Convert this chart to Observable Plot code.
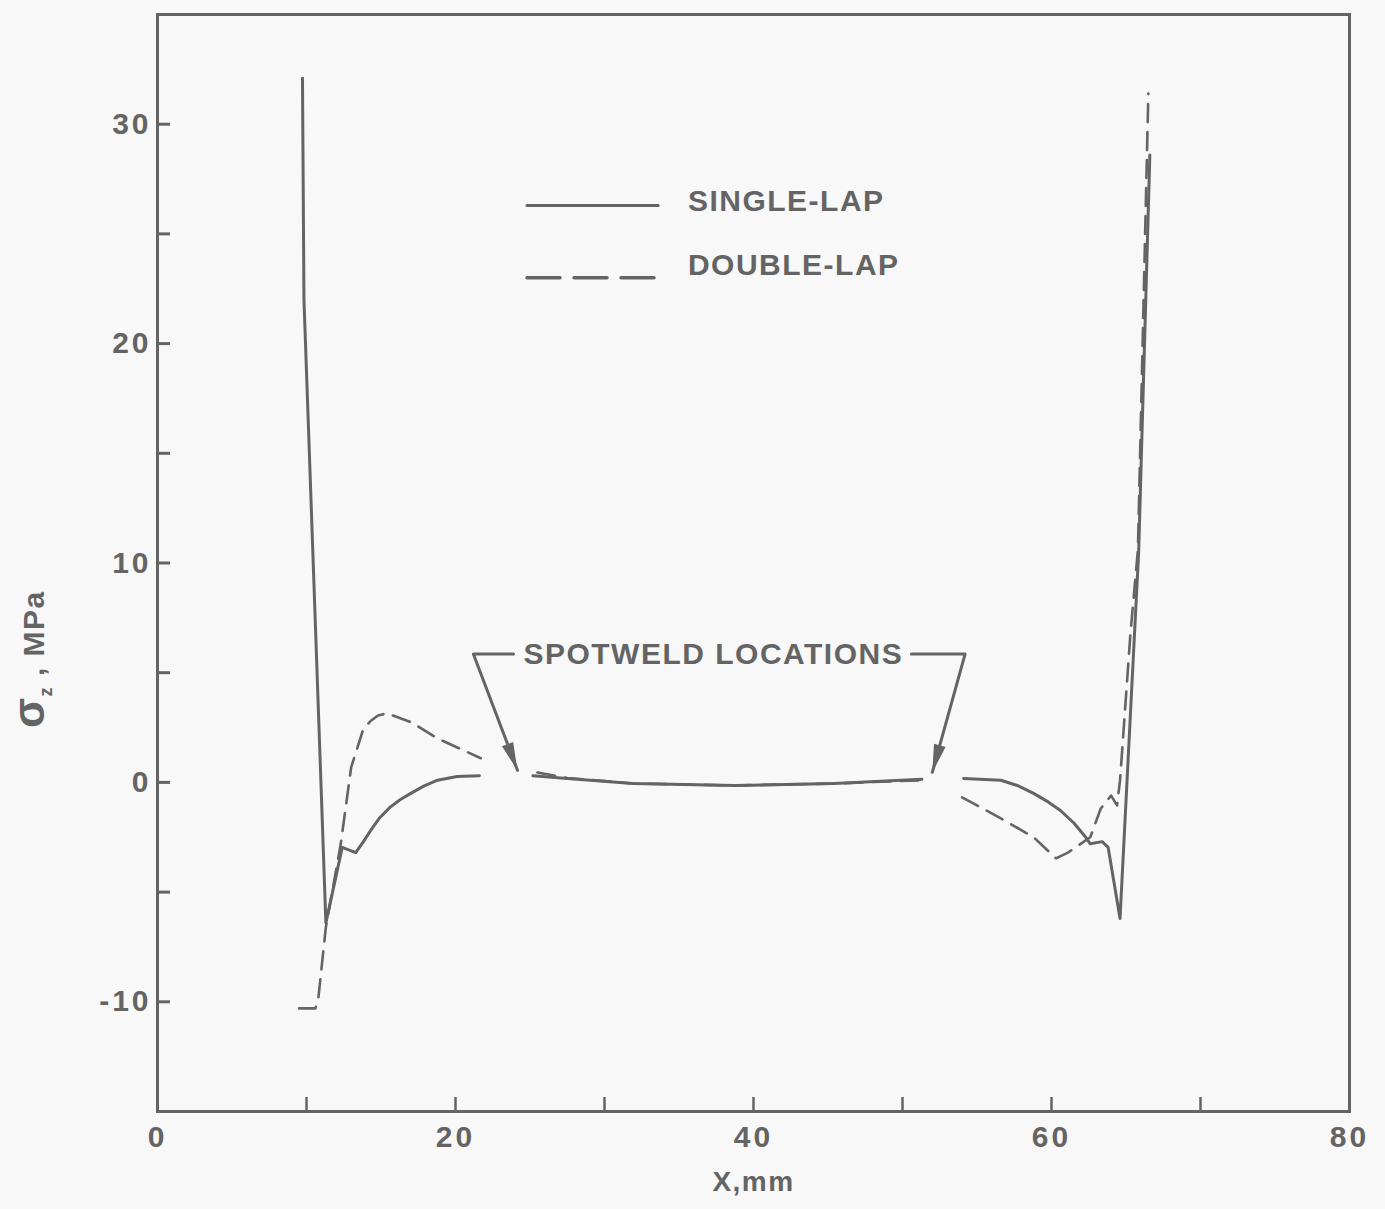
<!DOCTYPE html>
<html>
<head>
<meta charset="utf-8">
<script src="https://cdn.jsdelivr.net/npm/d3@7"></script>
<script src="https://cdn.jsdelivr.net/npm/@observablehq/plot@0.6"></script>
<style>
  html, body { margin: 0; padding: 0; background: #f8f8f8; }
  #chart { width: 1385px; height: 1209px; }
</style>
</head>
<body>
<div id="chart"></div>
<script>
// ---------- data ----------
const singleX   = [9.73, 9.83, 11.3, 12.4, 13.3, 13.8, 14.3, 14.9, 15.6, 16.3, 17.0, 17.9, 18.8, 20.1, 21.6,
                   25.2, 27.5, 31.9, 38.7, 45.4, 51.3,
                   54.1, 56.6, 57.7, 58.8, 59.8, 60.6, 61.5, 62.3, 62.6, 63.4, 63.8, 64.6, 65.85, 66.6];
const singleY   = [32.1, 22.0, -6.4, -2.96, -3.2, -2.72, -2.2, -1.62, -1.14, -0.78, -0.5, -0.16, 0.1, 0.27, 0.3,
                   0.3, 0.18, -0.05, -0.14, -0.05, 0.14,
                   0.18, 0.1, -0.14, -0.5, -0.9, -1.28, -1.85, -2.5, -2.8, -2.7, -2.96, -6.2, 10.5, 28.6];
const singleSeg = [0,0,0,0,0,0,0,0,0,0,0,0,0,0,0, 1,1,1,1,1,1, 2,2,2,2,2,2,2,2,2,2,2,2,2,2];

const doubleX   = [9.5, 10.6, 10.8, 11.3, 12.3, 13.0, 13.8, 14.3, 14.8, 15.4, 17.0, 18.8, 21.7,
                   25.5, 27.5, 31.9, 38.7, 45.4, 51.3,
                   54.0, 56.6, 58.8, 60.3, 61.1, 62.6, 63.3, 64.0, 64.4, 64.6, 65.3, 65.8, 66.5];
const doubleY   = [-10.3, -10.3, -9.8, -6.6, -2.8, 0.7, 2.4, 2.8, 3.05, 3.15, 2.75, 2.0, 1.1,
                   0.45, 0.2, -0.05, -0.14, -0.05, 0.1,
                   -0.68, -1.64, -2.5, -3.46, -3.2, -2.5, -1.2, -0.6, -1.05, 0.1, 6.8, 10.6, 31.4];
const doubleSeg = [0,0,0,0,0,0,0,0,0,0,0,0,0, 1,1,1,1,1,1, 2,2,2,2,2,2,2,2,2,2,2,2,2];

const xLabelTicks = [0, 20, 40, 60, 80];
const xMarkTicks  = [10, 20, 30, 40, 50, 60, 70];
const yLabelTicks = [-10, 0, 10, 20, 30];
const yMarkTicks  = [-10, -5, 0, 5, 10, 15, 20, 25, 30];

// legend
const legendNames = ["SINGLE-LAP", "DOUBLE-LAP"];
const legendDash  = ["none", "33,14"];
const legendLineX = [24.8, 33.6];
const legendLineY = [26.3, 23.0];
const legendTextX = 35.6;
const legendTextY = [26.5, 23.55];

// spotweld annotation
const noteText = "SPOTWELD LOCATIONS";
const noteX = 37.3, noteY = 5.85;
const bracketLeftX  = [23.9, 21.2, 24.16];
const bracketLeftY  = [5.85, 5.85, 0.55];
const bracketRightX = [50.6, 54.2, 52.0];
const bracketRightY = [5.85, 5.85, 0.46];

// ---------- layout / style ----------
const W = 1385, H = 1209;
const M = {left: 157, right: 36, top: 14, bottom: 98};
const INK = "#646464";
const FONT = "'Liberation Sans', Arial, Helvetica, sans-serif";
const xDomain = [0, 80], yDomain = [-15, 35];

const singleData = singleX.map((x, i) => ({x, y: singleY[i], s: singleSeg[i]}));
const doubleData = doubleX.map((x, i) => ({x, y: doubleY[i], s: doubleSeg[i]}));

// pixel-space helper scales (same as the plot's) to orient arrowheads
const xs = Plot.scale({x: {domain: xDomain, range: [M.left, W - M.right]}});
const ys = Plot.scale({y: {domain: yDomain, range: [H - M.bottom, M.top]}});

function headSymbol(bx, by) {
  const n = bx.length - 1;
  const dx = xs.apply(bx[n]) - xs.apply(bx[n - 1]);
  const dy = ys.apply(by[n]) - ys.apply(by[n - 1]);
  const len = Math.hypot(dx, dy), ux = dx / len, uy = dy / len;
  const px = -uy, py = ux, L = 28, Wd = 12;
  return {
    draw(ctx) {
      ctx.moveTo(0, 0);
      ctx.lineTo(-ux * L + px * Wd / 2, -uy * L + py * Wd / 2);
      ctx.lineTo(-ux * L - px * Wd / 2, -uy * L - py * Wd / 2);
      ctx.closePath();
    }
  };
}
const bracketLeft  = bracketLeftX.map((x, i) => ({x, y: bracketLeftY[i]}));
const bracketRight = bracketRightX.map((x, i) => ({x, y: bracketRightY[i]}));

const legendLines = [];
legendNames.forEach((name, i) => {
  legendLines.push({x: legendLineX[0], y: legendLineY[i], name});
  legendLines.push({x: legendLineX[1], y: legendLineY[i], name});
});

const plot = Plot.plot({
  width: W, height: H,
  marginLeft: M.left, marginRight: M.right, marginTop: M.top, marginBottom: M.bottom,
  style: {background: "#f8f8f8", color: INK, fontFamily: FONT, fontWeight: "bold", letterSpacing: "1.5px"},
  x: {domain: xDomain},
  y: {domain: yDomain},
  marks: [
    Plot.frame({stroke: INK, strokeWidth: 3}),
    Plot.axisX(xLabelTicks, {tickSize: 0, tickPadding: 14, fontSize: 30, fontWeight: "bold", label: null, tickFormat: d => String(d)}),
    Plot.axisX(xMarkTicks, {tickSize: -14, strokeWidth: 2.5, stroke: INK, label: null, tickFormat: () => ""}),
    Plot.axisY(yLabelTicks, {tickSize: 0, tickPadding: 6, fontSize: 30, fontWeight: "bold", label: null, tickFormat: d => String(d)}),
    Plot.axisY(yMarkTicks, {tickSize: -13, strokeWidth: 3, stroke: INK, label: null, tickFormat: () => ""}),
    Plot.text(["X,mm"], {frameAnchor: "bottom", dy: 79, text: d => d, fontSize: 28, fontWeight: "bold", fill: INK}),

    // data curves
    Plot.line(singleData, {x: "x", y: "y", z: "s", stroke: INK, strokeWidth: 3, curve: "linear"}),
    Plot.line(doubleData, {x: "x", y: "y", z: "s", stroke: INK, strokeWidth: 2.6, strokeDasharray: "18,10", curve: "linear"}),

    // legend
    Plot.line(legendLines.filter(d => d.name === legendNames[0]), {x: "x", y: "y", stroke: INK, strokeWidth: 3}),
    Plot.line(legendLines.filter(d => d.name === legendNames[1]), {x: "x", y: "y", stroke: INK, strokeWidth: 3.5, strokeDasharray: legendDash[1]}),
    Plot.text(legendNames, {x: legendTextX, y: (d, i) => legendTextY[i], text: d => d, textAnchor: "start", fontSize: 30, fontWeight: "bold", fill: INK}),

    // spotweld annotation
    Plot.text([noteText], {x: noteX, y: noteY, text: d => d, fontSize: 30, fontWeight: "bold", fill: INK}),
    Plot.line(bracketLeft, {x: "x", y: "y", stroke: INK, strokeWidth: 3}),
    Plot.line(bracketRight, {x: "x", y: "y", stroke: INK, strokeWidth: 3}),
    Plot.dot([bracketLeft[2]], {x: "x", y: "y", r: 5, fill: INK, stroke: "none", symbol: headSymbol(bracketLeftX, bracketLeftY)}),
    Plot.dot([bracketRight[2]], {x: "x", y: "y", r: 5, fill: INK, stroke: "none", symbol: headSymbol(bracketRightX, bracketRightY)})
  ]
});

const svg = d3.select(plot);
// wider digit spacing like the reference lettering
svg.selectAll('g[aria-label="x-axis tick label"] text, g[aria-label="y-axis tick label"] text')
  .style("letter-spacing", "3px");

// y-axis title with subscript
const yt = svg.append("text")
  .attr("transform", "translate(44, 728) rotate(-90)")
  .attr("text-anchor", "start")
  .attr("fill", INK)
  .attr("font-family", FONT)
  .attr("font-weight", "bold");
yt.append("tspan").attr("font-size", 44).text("σ");
yt.append("tspan").attr("font-size", 18).attr("dy", 8).text("z");
yt.append("tspan").attr("font-size", 30).attr("dy", -8).text(" , MPa");

document.getElementById("chart").appendChild(plot);
</script>
</body>
</html>
